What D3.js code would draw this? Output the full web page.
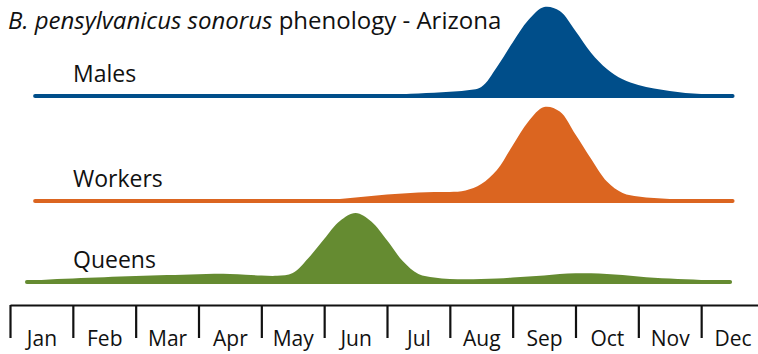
<!DOCTYPE html>
<html>
<head>
<meta charset="utf-8">
<script src="https://cdn.jsdelivr.net/npm/d3@7"></script>
<style>
  html, body { margin: 0; padding: 0; background: #fff; }
  svg { display: block; font-family: "Open Sans", "Noto Sans", sans-serif; }
</style>
</head>
<body>
<svg id="chart" width="758" height="354"></svg>
<script>
// Month names along the bottom axis
const months = ["Jan", "Feb", "Mar", "Apr", "May", "Jun", "Jul", "Aug", "Sep", "Oct", "Nov", "Dec"];

// Castes, top to bottom
const castes = ["Males", "Workers", "Queens"];

// Sample positions in months since 1 January (quarter-month steps)
const monthGrid = [
  0, 0.25, 0.5, 0.75, 1, 1.25, 1.5, 1.75, 2, 2.25, 2.5, 2.75,
  3, 3.25, 3.5, 3.75, 4, 4.25, 4.5, 4.75, 5, 5.25, 5.5, 5.75,
  6, 6.25, 6.5, 6.75, 7, 7.25, 7.5, 7.75, 8, 8.25, 8.5, 8.75,
  9, 9.25, 9.5, 9.75, 10, 10.25, 10.5, 10.75, 11, 11.25, 11.5, 11.75, 12
];

// Relative abundance (density index) at each sample position
const malesDensity = [
  0, 0, 0, 0, 0, 0, 0, 0, 0, 0, 0, 0,
  0, 0, 0, 0, 0, 0, 0, 0, 0, 0.3, 0.5, 0.8,
  1.2, 1.8, 2.5, 3.2, 4.2, 5.5, 9, 29, 53.5, 76, 89, 85,
  65, 43, 27, 16.7, 11, 7.5, 5, 3, 2, 1, 0.5, 0, 0
];
const workersDensity = [
  0, 0, 0, 0, 0, 0, 0, 0, 0, 0, 0, 0,
  0, 0, 0, 0, 0, 0, 0, 0.5, 1, 2, 3.5, 5,
  6.5, 7.5, 8.5, 9, 9, 10.5, 17, 31, 55.5, 79.5, 94, 89.5,
  66.5, 42, 19.5, 8, 4.5, 3, 2, 1.5, 1, 0.5, 0, 0, 0
];
const queensDensity = [
  0, 0.5, 2, 3, 3.5, 4.2, 4.8, 5.5, 6, 6.5, 7, 7.3,
  7.8, 8.2, 8, 7.3, 6.5, 6.2, 9, 24, 43, 61, 69, 60.5,
  41.7, 21, 8, 4.5, 3, 2.7, 3, 3.5, 4.5, 5.5, 6.5, 8,
  8.7, 8.7, 8, 7, 5.5, 4.3, 3.5, 2.7, 2, 1.5, 1, 0, 0
];

// First and last month with records for each caste
const recordSpans = [[0.4, 11.5], [0.4, 11.5], [0.27, 11.46]];

const densities = [malesDensity, workersDensity, queensDensity];
const colors = ["#004e8a", "#db6520", "#658b31"];

// Layout
const rowBaselines = [96, 201, 282];
const axisY = 305;

const svg = d3.select("#chart");

const x = d3.scaleLinear().domain([0, 12]).range([10, 764]);
const h = d3.scaleLinear().domain([0, 100]).range([0, 100]);

// Title
const title = svg.append("text")
  .attr("x", 8)
  .attr("y", 29)
  .attr("font-size", 24)
  .attr("fill", "#111");
title.append("tspan").attr("font-style", "italic").text("B. pensylvanicus sonorus");
title.append("tspan").text(" phenology - Arizona");

// One ridge per caste
castes.forEach((caste, i) => {
  const base = rowBaselines[i];
  const [start, end] = recordSpans[i];
  const clipId = "clip-" + i;

  svg.append("clipPath").attr("id", clipId)
    .append("rect")
    .attr("x", x(start))
    .attr("y", 0)
    .attr("width", x(end) - x(start))
    .attr("height", base + 1);

  const pts = monthGrid.map((m, k) => [m, densities[i][k]]);

  const area = d3.area()
    .x(d => x(d[0]))
    .y0(base)
    .y1(d => base - h(d[1]))
    .curve(d3.curveCatmullRom.alpha(0.5));

  svg.append("path")
    .datum(pts)
    .attr("clip-path", `url(#${clipId})`)
    .attr("d", area)
    .attr("fill", colors[i]);

  svg.append("line")
    .attr("x1", x(start))
    .attr("x2", x(end))
    .attr("y1", base)
    .attr("y2", base)
    .attr("stroke", colors[i])
    .attr("stroke-width", 4)
    .attr("stroke-linecap", "round");

  svg.append("text")
    .attr("x", 73)
    .attr("y", base - 14)
    .attr("font-size", 23)
    .attr("fill", "#111")
    .text(caste);
});

// Month boundaries
const tickAxis = d3.axisBottom(x)
  .tickValues(d3.range(0, 12))
  .tickSize(33)
  .tickSizeOuter(0)
  .tickFormat("");

const gTicks = svg.append("g")
  .attr("transform", `translate(0,${axisY})`)
  .call(tickAxis);
gTicks.select(".domain").attr("stroke", "#111").attr("stroke-width", 2.2);
gTicks.selectAll(".tick line").attr("stroke", "#111").attr("stroke-width", 2.2);

// Month names, centred within each month
const labelAxis = d3.axisBottom(x)
  .tickValues(months.map((_, k) => k + 0.5))
  .tickSize(0)
  .tickPadding(26)
  .tickFormat((d, k) => months[k]);

const gLabels = svg.append("g")
  .attr("transform", `translate(0,${axisY})`)
  .call(labelAxis);
gLabels.select(".domain").remove();
gLabels.selectAll(".tick text")
  .attr("font-size", 21)
  .attr("font-family", "'Open Sans', 'Noto Sans', sans-serif")
  .attr("fill", "#111");
</script>
</body>
</html>
